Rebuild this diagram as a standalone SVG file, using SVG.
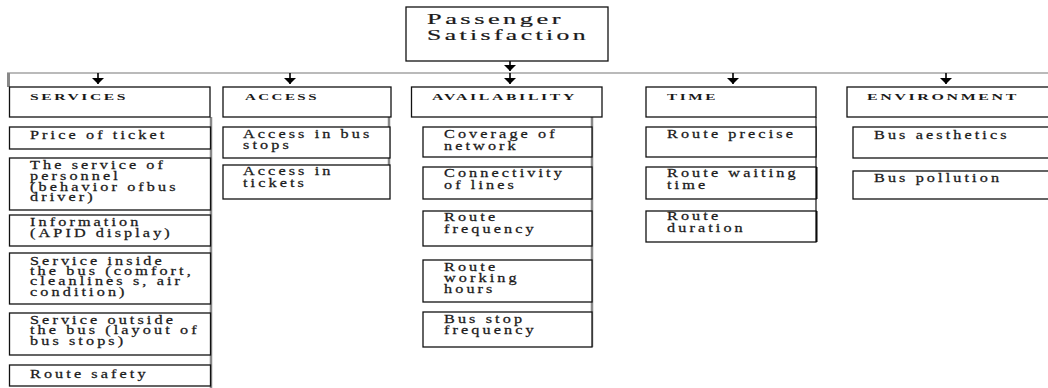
<svg xmlns="http://www.w3.org/2000/svg" width="1048" height="388" viewBox="0 0 1048 388">
<defs>
<marker id="ah" viewBox="0 0 6 12" refX="6" refY="6" markerWidth="6" markerHeight="12" markerUnits="userSpaceOnUse" orient="auto">
<path d="M0,0 L6,6 L0,12 z" fill="#000"/>
</marker>
<style>
.box{fill:#fff;stroke:#111;stroke-width:1.3}
.t{font-family:"Liberation Serif","Times New Roman",serif;font-size:12px;letter-spacing:2.3px;fill:#1a1a1a;stroke:#1a1a1a;stroke-width:0.25;transform-box:fill-box;transform-origin:0 0;transform:scaleX(1.35)}
.h{font-family:"Liberation Serif","Times New Roman",serif;font-size:9px;font-weight:bold;letter-spacing:1.5px;fill:#1a1a1a}
.ttl{font-family:"Liberation Serif","Times New Roman",serif;font-size:15px;letter-spacing:2px;fill:#1a1a1a;stroke:#1a1a1a;stroke-width:0.2}
.spine{stroke:#888;stroke-width:2.5;fill:none}
.con{stroke:#000;stroke-width:1.6;fill:none}
</style>
</defs>
<rect width="1048" height="388" fill="#fff"/>

<g id="connectors">
<line x1="7" y1="73" x2="1048" y2="73" stroke="#777" stroke-width="1.2"/>
<line x1="8.5" y1="73" x2="8.5" y2="87" stroke="#888" stroke-width="3"/>
<line class="con" x1="510" y1="61" x2="510" y2="71" marker-end="url(#ah)"/>
<line class="con" x1="98" y1="73" x2="98" y2="84" marker-end="url(#ah)"/>
<line class="con" x1="290" y1="73" x2="290" y2="84" marker-end="url(#ah)"/>
<line class="con" x1="510" y1="73" x2="510" y2="84" marker-end="url(#ah)"/>
<line class="con" x1="733" y1="73" x2="733" y2="84" marker-end="url(#ah)"/>
<line class="con" x1="946" y1="73" x2="946" y2="84" marker-end="url(#ah)"/>
<line class="spine" x1="211" y1="117" x2="211" y2="388"/>
<line class="spine" x1="389" y1="117" x2="389" y2="165"/>
<line class="spine" x1="592" y1="117" x2="592" y2="347"/>
<line x1="816" y1="117" x2="816" y2="242" stroke="#111" stroke-width="1.2"/>
<line x1="816" y1="167" x2="816" y2="199" stroke="#000" stroke-width="3"/>
<line x1="816" y1="211" x2="816" y2="242" stroke="#000" stroke-width="3"/>
</g>

<g id="passenger-satisfaction">
<rect class="box" x="406" y="7" width="202" height="54"/>
<text class="ttl" x="427" y="24" textLength="137" lengthAdjust="spacingAndGlyphs">Passenger</text>
<text class="ttl" x="427" y="40" textLength="162" lengthAdjust="spacingAndGlyphs">Satisfaction</text>
</g>

<g id="services">
<rect class="box" x="9.5" y="87" width="200.5" height="30"/>
<text class="h" x="30" y="100" textLength="98" lengthAdjust="spacingAndGlyphs">SERVICES</text>
</g>
<g id="access">
<rect class="box" x="223" y="87" width="168" height="30"/>
<text class="h" x="245" y="100" textLength="74" lengthAdjust="spacingAndGlyphs">ACCESS</text>
</g>
<g id="availability">
<rect class="box" x="411.5" y="87" width="190.5" height="30"/>
<text class="h" x="432" y="100" textLength="145" lengthAdjust="spacingAndGlyphs">AVAILABILITY</text>
</g>
<g id="time">
<rect class="box" x="646" y="87" width="170" height="30"/>
<text class="h" x="667" y="100" textLength="51" lengthAdjust="spacingAndGlyphs">TIME</text>
</g>
<g id="environment">
<rect class="box" x="847" y="87" width="210" height="30"/>
<text class="h" x="867" y="100" textLength="152" lengthAdjust="spacingAndGlyphs">ENVIRONMENT</text>
</g>

<g id="price-of-ticket">
<rect class="box" x="9.5" y="127" width="201" height="22"/>
<text class="t" x="30" y="139">Price of ticket</text>
</g>
<g id="service-of-personnel">
<rect class="box" x="9.5" y="158" width="201" height="52"/>
<text class="t" x="30" y="169">The service of</text>
<text class="t" x="30" y="180">personnel</text>
<text class="t" x="30" y="191">(behavior ofbus</text>
<text class="t" x="30" y="201">driver)</text>
</g>
<g id="information">
<rect class="box" x="9.5" y="215" width="201" height="31"/>
<text class="t" x="30" y="226">Information</text>
<text class="t" x="30" y="237">(APID display)</text>
</g>
<g id="service-inside">
<rect class="box" x="9.5" y="253" width="201" height="51"/>
<text class="t" x="30" y="265">Service inside</text>
<text class="t" x="30" y="275">the bus (comfort,</text>
<text class="t" x="30" y="285">cleanlines s, air</text>
<text class="t" x="30" y="296">condition)</text>
</g>
<g id="service-outside">
<rect class="box" x="9.5" y="313" width="201" height="42"/>
<text class="t" x="30" y="324">Service outside</text>
<text class="t" x="30" y="334">the bus (layout of</text>
<text class="t" x="30" y="345">bus stops)</text>
</g>
<g id="route-safety">
<rect class="box" x="9.5" y="365" width="201" height="21"/>
<text class="t" x="30" y="378">Route safety</text>
</g>

<g id="access-bus-stops">
<rect class="box" x="223" y="127" width="167" height="31"/>
<text class="t" x="243" y="138">Access in bus</text>
<text class="t" x="243" y="149">stops</text>
</g>
<g id="access-tickets">
<rect class="box" x="223" y="165" width="167" height="34"/>
<text class="t" x="243" y="175">Access in</text>
<text class="t" x="243" y="187">tickets</text>
</g>

<g id="coverage">
<rect class="box" x="423" y="127" width="169" height="30"/>
<text class="t" x="444" y="138">Coverage of</text>
<text class="t" x="444" y="150">network</text>
</g>
<g id="connectivity">
<rect class="box" x="423" y="167" width="169" height="32"/>
<text class="t" x="444" y="177">Connectivity</text>
<text class="t" x="444" y="189">of lines</text>
</g>
<g id="route-frequency">
<rect class="box" x="423" y="211" width="169" height="35"/>
<text class="t" x="444" y="221">Route</text>
<text class="t" x="444" y="233">frequency</text>
</g>
<g id="working-hours">
<rect class="box" x="423" y="260" width="169" height="42"/>
<text class="t" x="444" y="271">Route</text>
<text class="t" x="444" y="282">working</text>
<text class="t" x="444" y="293">hours</text>
</g>
<g id="bus-stop-frequency">
<rect class="box" x="423" y="312" width="169" height="35"/>
<text class="t" x="444" y="323">Bus stop</text>
<text class="t" x="444" y="334">frequency</text>
</g>

<g id="route-precise">
<rect class="box" x="646" y="127" width="170" height="30"/>
<text class="t" x="667" y="138">Route precise</text>
</g>
<g id="route-waiting">
<rect class="box" x="646" y="167" width="170" height="32"/>
<text class="t" x="667" y="177">Route waiting</text>
<text class="t" x="667" y="189">time</text>
</g>
<g id="route-duration">
<rect class="box" x="646" y="211" width="170" height="31"/>
<text class="t" x="667" y="220">Route</text>
<text class="t" x="667" y="232">duration</text>
</g>

<g id="bus-aesthetics">
<rect class="box" x="853" y="127" width="200" height="31"/>
<text class="t" x="874" y="139">Bus aesthetics</text>
</g>
<g id="bus-pollution">
<rect class="box" x="853" y="171" width="200" height="28"/>
<text class="t" x="874" y="182">Bus pollution</text>
</g>
</svg>
